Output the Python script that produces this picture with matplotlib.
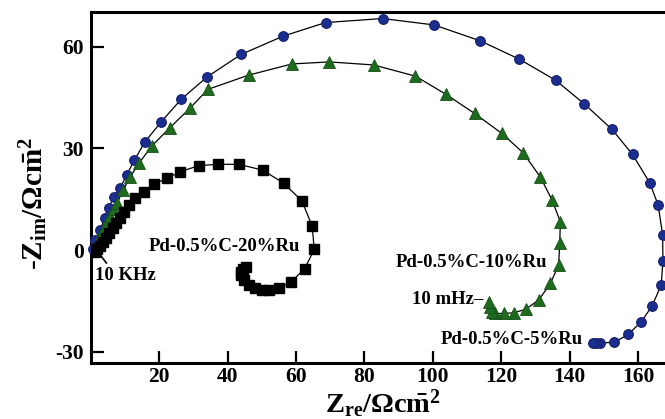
import matplotlib
matplotlib.use("Agg")
import matplotlib.pyplot as plt

plt.rcParams["font.family"] = ["Liberation Serif", "DejaVu Serif"]
plt.rcParams["font.weight"] = "bold"
plt.rcParams["axes.unicode_minus"] = False
plt.rcParams["mathtext.fontset"] = "custom"
plt.rcParams["mathtext.rm"] = "Liberation Serif:bold"
plt.rcParams["mathtext.it"] = "Liberation Serif:bold"
plt.rcParams["mathtext.bf"] = "Liberation Serif:bold"

# Nyquist data (Zre, -Zim) in ohm cm^2, from high to low frequency
ru5_zre = [0.6, 1.3, 2.7, 4.0, 5.2, 6.6, 8.6, 10.4, 12.7, 15.7, 20.6, 26.4, 34.0,
           43.9, 56.2, 68.6, 85.3, 100.4, 113.9, 125.3, 135.9, 144.2, 152.4, 158.4,
           163.4, 165.9, 167.2, 167.3, 166.8, 164.1, 161.0, 157.1, 153.1, 149.0,
           147.8, 146.7]
ru5_zim = [0.3, 2.9, 5.9, 9.4, 12.4, 15.6, 18.4, 22.1, 26.5, 31.8, 37.9, 44.5, 51.1,
           57.7, 63.1, 67.1, 68.3, 66.4, 61.7, 56.3, 50.1, 43.2, 35.6, 28.2,
           19.9, 13.3, 4.5, -3.1, -10.3, -16.5, -21.1, -24.9, -27.2, -27.4,
           -27.4, -27.3]

ru10_zre = [1.0, 1.6, 2.3, 3.0, 3.8, 4.7, 5.6, 6.6, 7.6, 9.4, 11.5, 14.0, 17.9,
            23.0, 28.9, 34.2, 46.1, 58.8, 69.7, 82.7, 94.9, 103.9, 112.2, 120.2,
            126.4, 131.4, 134.9, 137.3, 137.1, 136.8, 134.4, 131.0, 127.1, 123.6,
            120.7, 118.3, 117.3, 116.8, 116.3]
ru10_zim = [0.3, 1.5, 3.0, 4.6, 6.3, 8.2, 10.0, 12.0, 13.8, 17.7, 21.6, 25.6, 30.8,
            36.0, 41.8, 47.4, 51.6, 54.9, 55.5, 54.6, 51.3, 45.9, 40.3, 34.4,
            28.7, 21.6, 14.7, 8.3, 2.0, -4.4, -9.8, -14.7, -17.5, -18.5,
            -18.7, -18.7, -18.2, -16.7, -15.3]

ru20_zre = [1.2, 1.8, 2.6, 3.4, 4.3, 5.3, 6.3, 7.3, 8.4, 9.6, 11.0, 13.0, 15.4,
            18.3, 22.3, 26.1, 31.5, 37.1, 43.2, 50.2, 56.4, 61.7, 64.7, 65.3,
            62.5, 58.5, 54.9, 52.0, 50.0, 48.1, 46.1, 44.7, 43.9, 44.0, 44.5, 45.2]
ru20_zim = [-0.6, 0.3, 1.3, 2.4, 3.6, 5.0, 6.5, 8.0, 9.6, 11.3, 13.3, 15.3, 17.2,
            19.4, 21.2, 23.1, 24.9, 25.3, 25.3, 23.6, 19.7, 14.5, 7.1, 0.2,
            -5.5, -9.4, -11.3, -11.8, -11.8, -11.3, -10.3, -8.8, -7.4, -6.4, -5.6, -5.0]

x_ticks = [20, 40, 60, 80, 100, 120, 140, 160]
y_ticks = [-30, 0, 30, 60]

fig = plt.figure(figsize=(6.65, 4.19), dpi=100)
ax = fig.add_axes([0.1368, 0.1329, 0.8632, 0.8391])

line_kw = dict(color="black", lw=0.9, zorder=1)
ax.plot(ru5_zre, ru5_zim, **line_kw)
ax.plot(ru10_zre, ru10_zim, **line_kw)
ax.plot(ru20_zre, ru20_zim, **line_kw)
ax.plot(ru5_zre, ru5_zim, ls="none", marker="o", ms=7, mfc="#1c2d90",
        mec="#141f6e", mew=0.8, zorder=3, clip_on=False)
ax.plot(ru10_zre, ru10_zim, ls="none", marker="^", ms=9, mfc="#1e6a1e",
        mec="#165016", mew=0.6, zorder=3)
ax.plot(ru20_zre, ru20_zim, ls="none", marker="s", ms=6.5, mfc="black",
        mec="black", zorder=3)

ax.set_xlim(0, 167.9)
ax.set_ylim(-33.4, 70.3)
ax.set_xticks(x_ticks)
ax.set_yticks(y_ticks)
ax.tick_params(direction="in", length=9, width=1.6, labelsize=15.5, pad=5)
ax.tick_params(axis="x", pad=3)
for lab in ax.get_xticklabels() + ax.get_yticklabels():
    lab.set_fontweight("bold")
for side in ["left", "bottom", "top"]:
    ax.spines[side].set_linewidth(2.2)
ax.spines["right"].set_visible(False)

ax.set_xlabel(r"$\mathbf{Z_{re}/\Omega c\bar{m}^{2}}$", fontsize=20.5)
ax.set_ylabel(r"-$\mathbf{Z_{im}/\Omega c\bar{m}^{2}}$", fontsize=21)
ax.xaxis.set_label_coords(0.509, -0.069)
ax.yaxis.set_label_coords(-0.072, 0.455)

tkw = dict(fontsize=13.5, fontweight="bold", va="center")
ax.text(16.9, 1.2, "Pd-0.5%C-20%Ru", ha="left", **tkw)
ax.text(89.0, -3.7, "Pd-0.5%C-10%Ru", ha="left", **tkw)
ax.text(114.6, -14.5, "10 mHz\u2013", ha="right", **tkw)
ax.text(102.2, -26.3, "Pd-0.5%C-5%Ru", ha="left", **tkw)
ax.text(1.3, -7.4, "10 KHz", ha="left", **tkw)
ax.plot([2.75, 4.5], [-1.5, -3.8], color="black", lw=1.2)

fig.savefig("out.png", dpi=100)
